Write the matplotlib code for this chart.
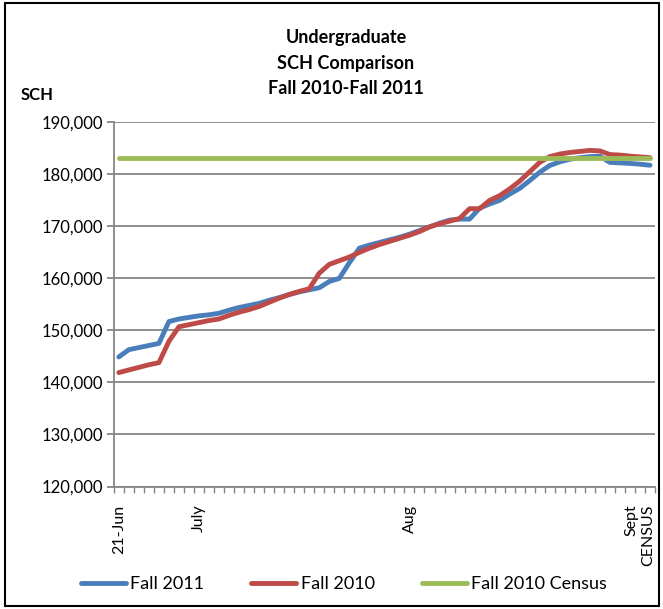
import numpy as np
import matplotlib
matplotlib.use("Agg")
import matplotlib.pyplot as plt
from matplotlib.patches import Rectangle
from matplotlib.ticker import FuncFormatter

plt.rcParams['font.family'] = ['Lato', 'DejaVu Sans']

# SCH by business day, 21-Jun through census day
fall_2011 = [144900, 146300, 146700, 147100, 147500, 151700, 152200, 152500, 152800, 153000,
             153300, 153900, 154400, 154800, 155200, 155800, 156300, 156900, 157400, 157800,
             158200, 159400, 160000, 163000, 165800, 166400, 166900, 167400, 167900, 168500,
             169200, 169900, 170600, 171200, 171400, 171400, 173500, 174300, 175000, 176200,
             177300, 178800, 180400, 181700, 182400, 182900, 183200, 183400, 183500, 182300,
             182200, 182100, 181950, 181750]
fall_2010 = [141900, 142400, 142900, 143400, 143800, 147900, 150700, 151100, 151500, 151900,
             152200, 152900, 153500, 154000, 154600, 155400, 156200, 156900, 157500, 158000,
             161000, 162700, 163400, 164100, 165000, 165800, 166500, 167100, 167700, 168300,
             169000, 169900, 170500, 171000, 171500, 173400, 173400, 175000, 175900, 177200,
             178700, 180500, 182300, 183400, 183900, 184200, 184400, 184600, 184500, 183800,
             183700, 183500, 183350, 183200]
census_2010 = 183100

label_pos = [0, 8, 29, 52]
label_txt = ["21-Jun", "July", "Aug", "Sept\nCENSUS"]
title_lines = ["Undergraduate", "SCH Comparison", "Fall 2010-Fall 2011"]

BLUE, RED, GREEN, GRID = '#4A7EBB', '#BE4B48', '#9BBB59', '#868686'

days = np.arange(len(fall_2011))
fig = plt.figure(figsize=(6.63, 6.09), dpi=100)
ax = fig.add_axes([113.8/663, 1-486.5/609, (655-113.8)/663, (486.5-122.3)/609])

line_kw = dict(lw=3.5, solid_capstyle='round', solid_joinstyle='round')
ax.plot(days, fall_2011, color=BLUE, label='Fall 2011', **line_kw)
ax.plot(days, fall_2010, color=RED, label='Fall 2010', **line_kw)
ax.plot(days, np.full(len(days), census_2010), color=GREEN, label='Fall 2010 Census', **line_kw)

ax.set_xlim(-0.5, len(days) - 0.5)
ax.set_ylim(120000, 190000)
ax.set_yticks(range(120000, 190001, 10000))
ax.yaxis.set_major_formatter(FuncFormatter(lambda v, p: f"{int(v):,}"))
ax.yaxis.grid(True, color=GRID, lw=1.3)
ax.set_axisbelow(True)
for s in ['top', 'right']:
    ax.spines[s].set_visible(False)
for s in ['left', 'bottom']:
    ax.spines[s].set_color(GRID)
    ax.spines[s].set_linewidth(1.3)
ax.tick_params(axis='y', length=5, color=GRID, width=1.3, labelsize=12, pad=3)

ax.set_xticks(label_pos)
ax.set_xticklabels(label_txt, rotation=90, fontsize=11.5, va='top', ha='center')
for t in ax.get_xticklabels():
    t.set_multialignment('right')
ax.set_xticks(np.arange(-0.5, len(days), 1), minor=True)
ax.tick_params(axis='x', which='major', length=0, pad=13)
ax.tick_params(axis='x', which='minor', length=4, color=GRID, width=1)

for i, t in enumerate(title_lines):
    fig.text(346/663, 1 - (38 + 25*i)/609, t, ha='center', va='center',
             fontsize=13, fontweight='bold')
fig.text(37/663, 1 - 95/609, "SCH", ha='center', va='center', fontsize=12, fontweight='bold')

fig.legend(loc='center', bbox_to_anchor=(344/663, 1 - 584/609), ncol=3, frameon=False,
           fontsize=13, handlelength=2.5, handletextpad=0.25, columnspacing=2.6)

fig.patches.append(Rectangle((5/663, 3/609), 654/663, 603/609, transform=fig.transFigure,
                             fill=False, ec='black', lw=1.5))

fig.savefig("out.png", dpi=100)
